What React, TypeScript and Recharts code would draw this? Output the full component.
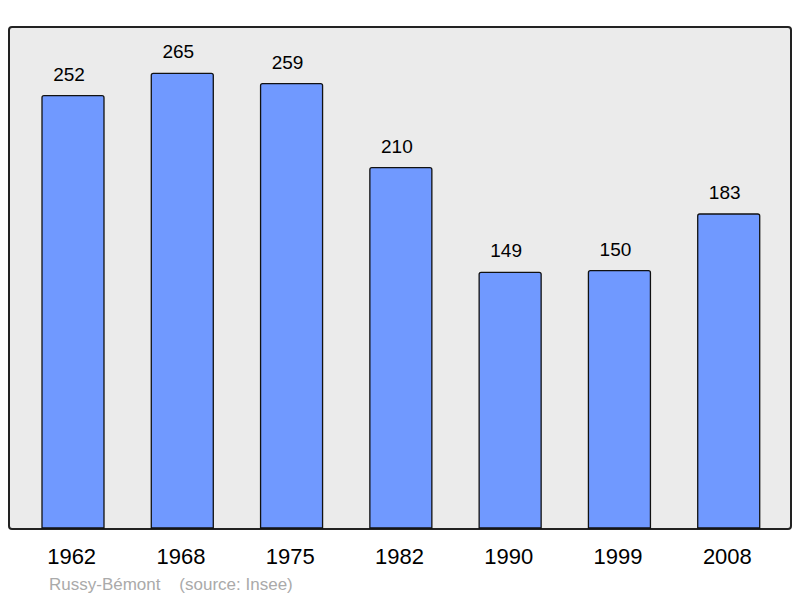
import React from "react";
import { BarChart, Bar, XAxis, YAxis, LabelList } from "recharts";

const years = ["1962", "1968", "1975", "1982", "1990", "1999", "2008"];
const population = [252, 265, 259, 210, 149, 150, 183];
const caption = "Russy-Bémont    (source: Insee)";

const data = years.map((y, i) => ({ year: y, pop: population[i] }));

const renderLabel = (props: any) => {
  const { x, y, width, value } = props;
  return (
    <text
      x={x + width / 2 - 4}
      y={y - 15}
      textAnchor="middle"
      fill="#000"
      fontSize={19}
      fontFamily="'Liberation Sans', Arial, sans-serif"
    >
      {value}
    </text>
  );
};

export default function App() {
  return (
    <div style={{ position: "absolute", left: 0, top: 0, width: 800, height: 598, background: "#fff", fontFamily: "'Liberation Sans', Arial, sans-serif" }}>
      <div
        style={{
          position: "absolute",
          left: 8,
          top: 26,
          width: 780,
          height: 500,
          border: "2px solid #222",
          borderRadius: 4,
          background: "#ebebeb",
        }}
      />
      <div style={{ position: "absolute", left: 0, top: 0 }}>
        <BarChart
          width={800}
          height={598}
          data={data}
          margin={{ top: 27, right: 17, bottom: 0, left: 18 }}
          barSize={62}
        >
          <XAxis
            dataKey="year"
            axisLine={false}
            tickLine={false}
            tick={{ fill: "#000", fontSize: 22, fontFamily: "'Liberation Sans', Arial, sans-serif" }}
            dy={12}
            dx={-1}
            height={70}
          />
          <YAxis hide domain={[0, 292]} width={0} />
          <Bar dataKey="pop" fill="#7099ff" stroke="#111" strokeWidth={1.3} radius={[2, 2, 0, 0]} isAnimationActive={false}>
            <LabelList dataKey="pop" content={renderLabel} />
          </Bar>
        </BarChart>
      </div>
      <div
        style={{
          position: "absolute",
          left: 49,
          top: 575,
          fontSize: 17,
          color: "#aaa",
          whiteSpace: "pre",
        }}
      >
        {caption}
      </div>
    </div>
  );
}
